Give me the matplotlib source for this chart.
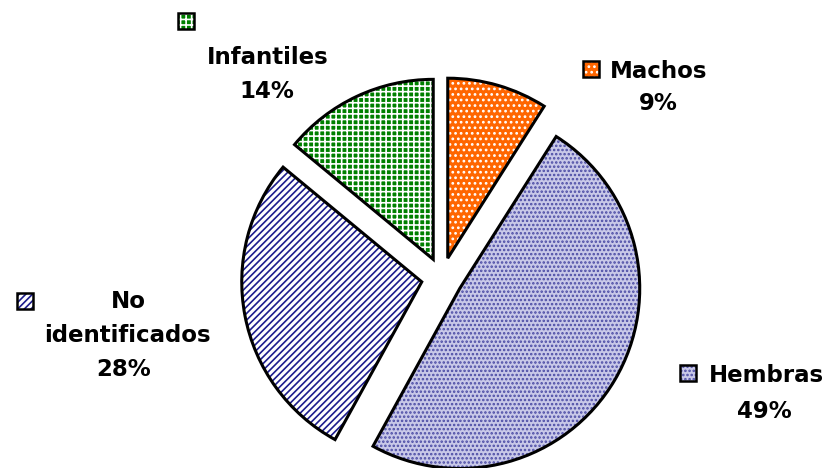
import matplotlib
matplotlib.use('Agg')
import matplotlib.pyplot as plt
from matplotlib.patches import Rectangle

W, H = 831, 468

labels = ['Machos', 'Hembras', 'No identificados', 'Infantiles']
valores = [9, 49, 28, 14]

# relleno, color de la trama, trama
caras = ['#FF6600', '#C8C8E8', '#FFFFFF', '#008000']
tramas_col = ['#FFFFFF', '#4A4AA4', '#1C1C8C', '#FFFFFF']
tramas = ['...', '....', '/////', '+++']

plt.rcParams['hatch.linewidth'] = 1.2

fig = plt.figure(figsize=(W / 100, H / 100), dpi=100)
ax = fig.add_axes([0, 0, 1, 1])

centro = (442, H - 278)
radio = 180
sep = [20.6] * 4

# capa 1: relleno con trama
cunas, _ = ax.pie(valores, startangle=90, counterclock=False, radius=radio,
                  center=centro, explode=sep)
for w, fc, hc, ht in zip(cunas, caras, tramas_col, tramas):
    w.set_facecolor(fc)
    w.set_edgecolor(hc)
    w.set_linewidth(0)
    w.set_hatch(ht)

# capa 2: borde negro
bordes, _ = ax.pie(valores, startangle=90, counterclock=False, radius=radio,
                   center=centro, explode=sep,
                   wedgeprops=dict(fill=False, edgecolor='black', linewidth=2.2))

# etiquetas: (x llave, y llave, lineas [(texto, x, y)])
etiquetas = [
    (583, 61, [('Machos', 659, 71), ('9%', 658, 103)]),
    (680, 365, [('Hembras', 766, 375), ('49%', 764, 412)]),
    (17, 293, [('No', 128, 302), ('identificados', 127, 336), ('28%', 124, 369)]),
    (178, 13, [('Infantiles', 268, 57), ('14%', 267, 91)]),
]

fuente = dict(fontsize=16.5, fontweight='bold', family='DejaVu Sans',
              ha='center', va='center', color='black')

for i, (kx, ky, lineas) in enumerate(etiquetas):
    lado = 16
    ax.add_patch(Rectangle((kx, H - ky - lado), lado, lado, facecolor=caras[i],
                           edgecolor=tramas_col[i], hatch=tramas[i], linewidth=0))
    ax.add_patch(Rectangle((kx, H - ky - lado), lado, lado, fill=False,
                           edgecolor='black', linewidth=1.8))
    for txt, x, y in lineas:
        ax.text(x, H - y, txt, **fuente)

ax.set_xlim(0, W)
ax.set_ylim(0, H)
ax.set_aspect('auto')
ax.axis('off')

fig.savefig('out.png', dpi=100)
